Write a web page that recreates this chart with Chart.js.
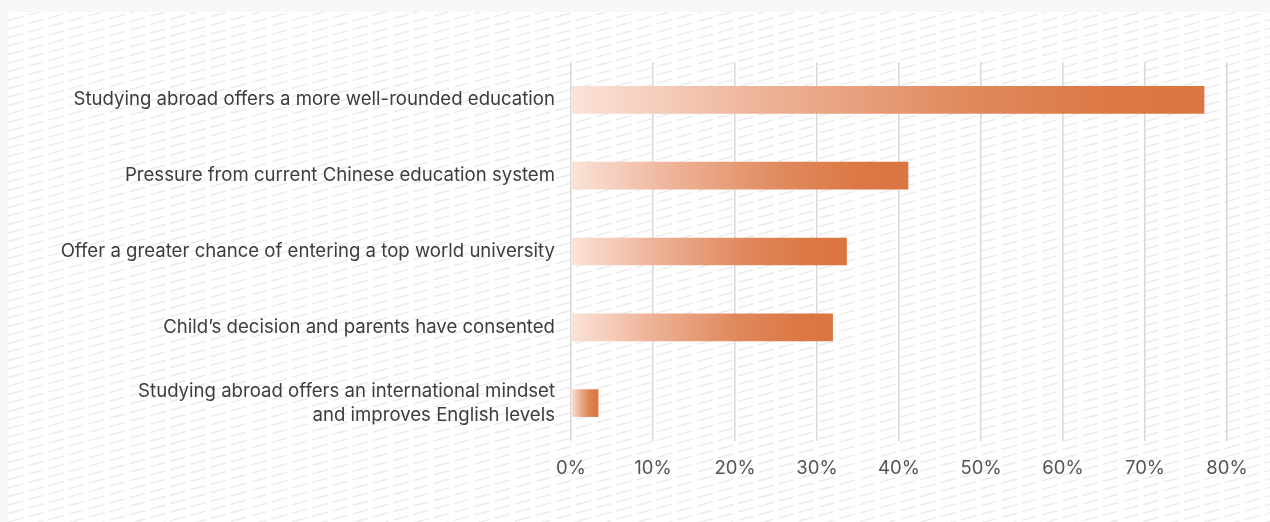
<!DOCTYPE html>
<html lang="en">
<head>
    <meta charset="UTF-8">
    <title>Reasons for studying abroad</title>
    <script src="https://cdn.jsdelivr.net/npm/chart.js"></script>
    <style>
        html, body {
            margin: 0;
            padding: 0;
            background: #f7f8fa;
            overflow: hidden;
        }
        .panel {
            position: absolute;
            left: 8px;
            top: 12px;
            width: 1262px;
            height: 510px;
            background: #ffffff;
        }
    </style>
</head>
<body>
    <div class="panel">
        <canvas id="reasonsChart" width="1262" height="510"></canvas>
    </div>
    <script>
        const categories = [
            "Studying abroad offers a more well-rounded education",
            "Pressure from current Chinese education system",
            "Offer a greater chance of entering a top world university",
            "Child\u2019s decision and parents have consented",
            ["Studying abroad offers an international mindset", "and improves English levels"]
        ];
        const shares = [77.2, 41.1, 33.6, 31.9, 3.3];
        const xTicks = [0, 10, 20, 30, 40, 50, 60, 70, 80];

        // diagonal dashed hatch behind everything
        const hatchPlugin = {
            id: "hatch",
            beforeDraw(chart) {
                const ctx = chart.ctx;
                const w = chart.width, h = chart.height;
                ctx.save();
                ctx.fillStyle = "#ffffff";
                ctx.fillRect(0, 0, w, h);
                ctx.strokeStyle = "#ebebeb";
                ctx.lineWidth = 1.4;
                ctx.setLineDash([16, 5]);
                const slope = 0.27;
                for (let y0 = 0; y0 < h + w * slope; y0 += 8.5) {
                    ctx.beginPath();
                    ctx.moveTo(0, y0);
                    ctx.lineTo(w, y0 - w * slope);
                    ctx.stroke();
                }
                ctx.restore();
            }
        };

        const barGradient = (context) => {
            const chart = context.chart;
            if (!chart.chartArea || !chart.scales.x) return "#dc7643";
            const x = chart.scales.x;
            const x0 = x.getPixelForValue(0);
            const x1 = x.getPixelForValue(context.raw);
            const g = chart.ctx.createLinearGradient(x0, 0, Math.max(x1, x0 + 1), 0);
            g.addColorStop(0, "#fbe3d9");
            g.addColorStop(0.3, "#eeb398");
            g.addColorStop(0.62, "#e08a5e");
            g.addColorStop(0.85, "#dc7845");
            g.addColorStop(1, "#db7541");
            return g;
        };

        new Chart(document.getElementById("reasonsChart"), {
            type: "bar",
            data: {
                labels: categories,
                datasets: [{
                    data: shares,
                    backgroundColor: barGradient,
                    barThickness: 27,
                    borderWidth: 0
                }]
            },
            options: {
                indexAxis: "y",
                responsive: false,
                animation: false,
                layout: { padding: { top: 50, right: 43, left: 0, bottom: 0 } },
                plugins: {
                    legend: { display: false },
                    tooltip: { enabled: false }
                },
                scales: {
                    x: {
                        min: 0,
                        max: 80,
                        afterBuildTicks: (scale) => {
                            scale.ticks = xTicks.map(v => ({ value: v }));
                        },
                        afterFit: (scale) => { scale.height = 81; },
                        border: { display: false },
                        grid: { color: "#dadada", lineWidth: 1.6, drawTicks: false },
                        ticks: {
                            padding: 16,
                            color: "#555555",
                            font: { family: "Inter", size: 18.5 },
                            callback: (v) => v + "%"
                        }
                    },
                    y: {
                        afterFit: (scale) => { scale.width = 563; },
                        border: { display: false },
                        grid: { display: false, drawTicks: false },
                        ticks: {
                            padding: 16,
                            color: "#3d3d3d",
                            font: { family: "Inter", size: 18.6, lineHeight: 1.3 }
                        }
                    }
                }
            },
            plugins: [hatchPlugin]
        });
    </script>
</body>
</html>
